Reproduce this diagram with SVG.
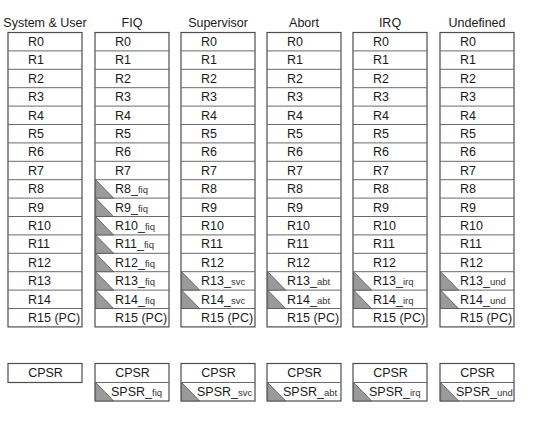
<svg xmlns="http://www.w3.org/2000/svg" xmlns:xlink="http://www.w3.org/1999/xlink" width="544" height="428" viewBox="0 0 544 428">
  <style>
    text { font-family: "Liberation Sans", Arial, sans-serif; font-size: 12.5px; fill: #1a1a1a; }
    .hdr { text-anchor: middle; }
    .mid { text-anchor: middle; }
    .sub { font-size: 9.5px; fill: #333; }
    .box { fill: #fff; stroke: #4d4d4d; stroke-width: 1.2; }
    .sep { stroke: #6a6a6a; stroke-width: 1; }
    .tri { fill: #9a9a9a; stroke: #555; stroke-width: 0.8; }
  </style>
  <defs>
    <!-- one register bank: outline plus row separators -->
    <g id="bank">
      <rect class="box" x="0" y="32.5" width="74" height="294.4"/>
      <path class="sep" d="M0,50.9H74M0,69.3H74M0,87.7H74M0,106.1H74M0,124.5H74M0,142.9H74M0,161.3H74M0,179.7H74M0,198.1H74M0,216.5H74M0,234.9H74M0,253.3H74M0,271.7H74M0,290.1H74M0,308.5H74"/>
    </g>
    <!-- banked register marker -->
    <path id="tri" class="tri" d="M0,0V18.4H18Z"/>
    <!-- standard rows R0..R7 -->
    <g id="low">
      <text x="20" y="46">R0</text>
      <text x="20" y="64.4">R1</text>
      <text x="20" y="82.8">R2</text>
      <text x="20" y="101.2">R3</text>
      <text x="20" y="119.6">R4</text>
      <text x="20" y="138">R5</text>
      <text x="20" y="156.4">R6</text>
      <text x="20" y="174.8">R7</text>
    </g>
    <!-- standard rows R8..R12 -->
    <g id="mid">
      <text x="20" y="193.2">R8</text>
      <text x="20" y="211.6">R9</text>
      <text x="20" y="230">R10</text>
      <text x="20" y="248.4">R11</text>
      <text x="20" y="266.8">R12</text>
    </g>
  </defs>

  <!-- System & User -->
  <g id="sys" transform="translate(8,0)">
    <text class="hdr" x="37" y="26.5">System &amp; User</text>
    <use xlink:href="#bank"/>
    <use xlink:href="#low"/>
    <use xlink:href="#mid"/>
    <text x="20" y="285.2">R13</text>
    <text x="20" y="303.6">R14</text>
    <text x="20" y="322">R15 (PC)</text>
  </g>

  <!-- FIQ -->
  <g id="fiq" transform="translate(95,0)">
    <text class="hdr" x="37" y="26.5">FIQ</text>
    <use xlink:href="#bank"/>
    <use xlink:href="#tri" x="0.6" y="179.7"/>
    <use xlink:href="#tri" x="0.6" y="198.1"/>
    <use xlink:href="#tri" x="0.6" y="216.5"/>
    <use xlink:href="#tri" x="0.6" y="234.9"/>
    <use xlink:href="#tri" x="0.6" y="253.3"/>
    <use xlink:href="#tri" x="0.6" y="271.7"/>
    <use xlink:href="#tri" x="0.6" y="290.1"/>
    <use xlink:href="#low"/>
    <text x="20" y="193.2">R8_<tspan class="sub">fiq</tspan></text>
    <text x="20" y="211.6">R9_<tspan class="sub">fiq</tspan></text>
    <text x="20" y="230">R10_<tspan class="sub">fiq</tspan></text>
    <text x="20" y="248.4">R11_<tspan class="sub">fiq</tspan></text>
    <text x="20" y="266.8">R12_<tspan class="sub">fiq</tspan></text>
    <text x="20" y="285.2">R13_<tspan class="sub">fiq</tspan></text>
    <text x="20" y="303.6">R14_<tspan class="sub">fiq</tspan></text>
    <text x="20" y="322">R15 (PC)</text>
  </g>

  <!-- Supervisor -->
  <g id="svc" transform="translate(181,0)">
    <text class="hdr" x="37" y="26.5">Supervisor</text>
    <use xlink:href="#bank"/>
    <use xlink:href="#tri" x="0.6" y="271.7"/>
    <use xlink:href="#tri" x="0.6" y="290.1"/>
    <use xlink:href="#low"/>
    <use xlink:href="#mid"/>
    <text x="20" y="285.2">R13_<tspan class="sub">svc</tspan></text>
    <text x="20" y="303.6">R14_<tspan class="sub">svc</tspan></text>
    <text x="20" y="322">R15 (PC)</text>
  </g>

  <!-- Abort -->
  <g id="abt" transform="translate(267,0)">
    <text class="hdr" x="37" y="26.5">Abort</text>
    <use xlink:href="#bank"/>
    <use xlink:href="#tri" x="0.6" y="271.7"/>
    <use xlink:href="#tri" x="0.6" y="290.1"/>
    <use xlink:href="#low"/>
    <use xlink:href="#mid"/>
    <text x="20" y="285.2">R13_<tspan class="sub">abt</tspan></text>
    <text x="20" y="303.6">R14_<tspan class="sub">abt</tspan></text>
    <text x="20" y="322">R15 (PC)</text>
  </g>

  <!-- IRQ -->
  <g id="irq" transform="translate(353,0)">
    <text class="hdr" x="37" y="26.5">IRQ</text>
    <use xlink:href="#bank"/>
    <use xlink:href="#tri" x="0.6" y="271.7"/>
    <use xlink:href="#tri" x="0.6" y="290.1"/>
    <use xlink:href="#low"/>
    <use xlink:href="#mid"/>
    <text x="20" y="285.2">R13_<tspan class="sub">irq</tspan></text>
    <text x="20" y="303.6">R14_<tspan class="sub">irq</tspan></text>
    <text x="20" y="322">R15 (PC)</text>
  </g>

  <!-- Undefined -->
  <g id="und" transform="translate(440,0)">
    <text class="hdr" x="37" y="26.5">Undefined</text>
    <use xlink:href="#bank"/>
    <use xlink:href="#tri" x="0.6" y="271.7"/>
    <use xlink:href="#tri" x="0.6" y="290.1"/>
    <use xlink:href="#low"/>
    <use xlink:href="#mid"/>
    <text x="20" y="285.2">R13_<tspan class="sub">und</tspan></text>
    <text x="20" y="303.6">R14_<tspan class="sub">und</tspan></text>
    <text x="20" y="322">R15 (PC)</text>
  </g>

  <!-- status registers -->
  <g id="psr-sys" transform="translate(8,0)">
    <rect class="box" x="0" y="363.5" width="74" height="19"/>
    <text class="mid" x="37.5" y="377">CPSR</text>
  </g>
  <g id="psr-fiq" transform="translate(95,0)">
    <rect class="box" x="0" y="363.5" width="74" height="37.5"/>
    <path class="sep" d="M0,382.5H74"/>
    <use xlink:href="#tri" x="0.6" y="382.5" transform="translate(0,0)"/>
    <text class="mid" x="37.5" y="377">CPSR</text>
    <text x="16" y="395.5">SPSR_<tspan class="sub">fiq</tspan></text>
  </g>
  <g id="psr-svc" transform="translate(181,0)">
    <rect class="box" x="0" y="363.5" width="74" height="37.5"/>
    <path class="sep" d="M0,382.5H74"/>
    <use xlink:href="#tri" x="0.6" y="382.5"/>
    <text class="mid" x="37.5" y="377">CPSR</text>
    <text x="16" y="395.5">SPSR_<tspan class="sub">svc</tspan></text>
  </g>
  <g id="psr-abt" transform="translate(267,0)">
    <rect class="box" x="0" y="363.5" width="74" height="37.5"/>
    <path class="sep" d="M0,382.5H74"/>
    <use xlink:href="#tri" x="0.6" y="382.5"/>
    <text class="mid" x="37.5" y="377">CPSR</text>
    <text x="16" y="395.5">SPSR_<tspan class="sub">abt</tspan></text>
  </g>
  <g id="psr-irq" transform="translate(353,0)">
    <rect class="box" x="0" y="363.5" width="74" height="37.5"/>
    <path class="sep" d="M0,382.5H74"/>
    <use xlink:href="#tri" x="0.6" y="382.5"/>
    <text class="mid" x="37.5" y="377">CPSR</text>
    <text x="16" y="395.5">SPSR_<tspan class="sub">irq</tspan></text>
  </g>
  <g id="psr-und" transform="translate(440,0)">
    <rect class="box" x="0" y="363.5" width="74" height="37.5"/>
    <path class="sep" d="M0,382.5H74"/>
    <use xlink:href="#tri" x="0.6" y="382.5"/>
    <text class="mid" x="37.5" y="377">CPSR</text>
    <text x="16" y="395.5">SPSR_<tspan class="sub">und</tspan></text>
  </g>

  <!-- no connectors in this register map -->
  <g id="connectors"/>
</svg>
